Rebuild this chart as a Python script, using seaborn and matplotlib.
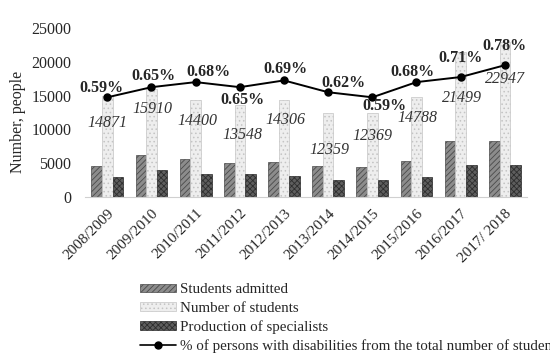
import matplotlib
matplotlib.use("Agg")
import matplotlib.pyplot as plt
from matplotlib.lines import Line2D
from matplotlib.patches import Patch
import seaborn as sns
import pandas as pd

years = ["2008/2009", "2009/2010", "2010/2011", "2011/2012", "2012/2013",
         "2013/2014", "2014/2015", "2015/2016", "2016/2017", "2017/ 2018"]
admitted = [4600, 6200, 5600, 5000, 5200, 4600, 4400, 5300, 8300, 8300]
students = [14871, 15910, 14400, 13548, 14306, 12359, 12369, 14788, 21499, 22947]
specialists = [3000, 4000, 3400, 3400, 3100, 2500, 2500, 3000, 4750, 4750]
disabled_pct = [0.59, 0.65, 0.68, 0.65, 0.69, 0.62, 0.59, 0.68, 0.71, 0.78]

series = ["Students admitted", "Number of students", "Production of specialists"]
line_label = "% of persons with disabilities from the total number of students"

# label offsets (points) for the annotations
pct_off = [(-4, 6.5), (1.5, 8), (9, 7), (2, -9), (1, 8), (11, 7), (9, -6), (-3, 7), (0, 14), (0, 14)]
num_off = [(0, -19), (1, -14), (1, -15), (2, -21), (1, -14), (1, -26), (0, -16), (1, -15), (1, -33), (0, -27)]

df = pd.DataFrame({"year": years, series[0]: admitted,
                   series[1]: students, series[2]: specialists})
long = df.melt(id_vars="year", var_name="series", value_name="value")

sns.set_style("white")
plt.rcParams["font.family"] = ["Liberation Serif", "DejaVu Serif"]
plt.rcParams["hatch.linewidth"] = 0.6

fig = plt.figure(figsize=(5.5, 3.6), dpi=100)
ax = fig.add_axes([0.155, 0.453, 0.803, 0.469])

styles = {
    series[0]: dict(fc="#8c8c8c", ec="#4a4a4a", hatch="//////"),
    series[1]: dict(fc="#eeeeee", ec="#c4c4c4", hatch="...."),
    series[2]: dict(fc="#5e5e5e", ec="#2e2e2e", hatch="xxxxxx"),
}

sns.barplot(data=long, x="year", y="value", hue="series", hue_order=series,
            width=0.72, ax=ax, legend=False, saturation=1)

for cont, name in zip(ax.containers, series):
    st = styles[name]
    for bar in cont:
        bar.set_facecolor(st["fc"])
        bar.set_edgecolor(st["ec"])
        bar.set_hatch(st["hatch"])
        bar.set_linewidth(0.5)

ax.set_ylim(0, 25000)
ax.set_yticks(range(0, 25001, 5000))
ax.set_xlim(-0.5, len(years) - 0.5)
ax.set_xlabel("")
ax.set_ylabel("Number, people", fontsize=11.5)
ax.yaxis.set_label_coords(-0.135, 0.444)
ax.tick_params(axis="y", length=0, labelsize=11.5, pad=10)
ax.tick_params(axis="x", length=0, labelsize=11, pad=7)
plt.setp(ax.get_xticklabels(), rotation=45, ha="right", rotation_mode="anchor")
for s in ["top", "right", "left"]:
    ax.spines[s].set_visible(False)
ax.spines["bottom"].set_color("#d0d0d0")

mid = ax.containers[1]
for bar, v, off in zip(mid, students, num_off):
    ax.annotate(f"{v}", (bar.get_x() + bar.get_width() / 2, v), xytext=off,
                textcoords="offset points", ha="center", va="center",
                fontsize=11.5, style="italic", color="#333333")

ax2 = ax.twinx()
sns.pointplot(x=years, y=disabled_pct, ax=ax2, color="black", markers="o",
              markersize=5, linewidth=1.4)
ax2.set_ylim(0, 1.0)
ax2.set_xlim(-0.5, len(years) - 0.5)
ax2.set_yticks([])
for s in ["top", "right", "left", "bottom"]:
    ax2.spines[s].set_visible(False)

for i, (p, off) in enumerate(zip(disabled_pct, pct_off)):
    ax2.annotate(f"{p:.2f}%", (i, p), xytext=off, textcoords="offset points",
                 ha="center", va="center", fontsize=11.5, fontweight="bold")

handles = [Patch(facecolor=styles[n]["fc"], edgecolor=styles[n]["ec"],
                 hatch=styles[n]["hatch"], linewidth=0.5) for n in series]
handles.append(Line2D([], [], color="black", marker="o", markersize=5, linewidth=1.2))
fig.legend(handles, series + [line_label], loc="upper left",
           bbox_to_anchor=(0.2545, 0.213), frameon=False, fontsize=10.8,
           handlelength=2.4, handleheight=0.5, handletextpad=0.3,
           labelspacing=0.36, borderpad=0, borderaxespad=0)

fig.savefig("out.png", dpi=100)
